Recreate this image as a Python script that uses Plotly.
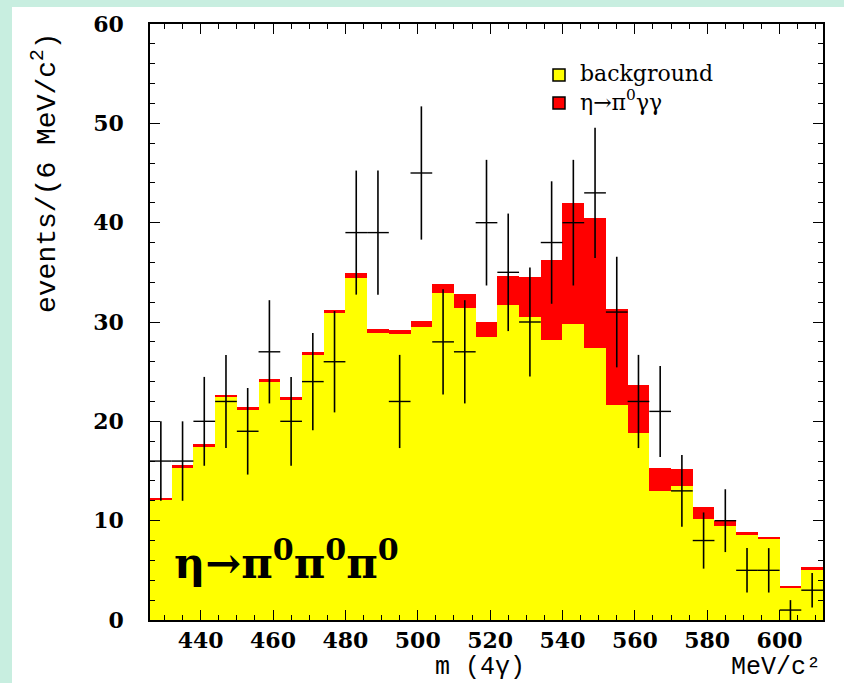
import numpy as np
import plotly.graph_objects as go

# 4-photon invariant mass, 6 MeV/c^2 bins from 426 to 612 MeV/c^2
bin_edges_lo = 426
bin_width = 6
bin_centers = [429, 435, 441, 447, 453, 459, 465, 471, 477, 483, 489, 495, 501, 507, 513, 519,
               525, 531, 537, 543, 549, 555, 561, 567, 573, 579, 585, 591, 597, 603, 609]

# observed events per bin
data_counts = [16, 16, 20, 22, 19, 27, 20, 24, 26, 39, 39, 22, 45, 28, 27, 40,
               35, 30, 38, 40, 43, 31, 22, 21, 13, 8, 10, 5, 5, 1, 3]

# expected background per bin
background = [12.1, 15.3, 17.5, 22.5, 21.2, 24.0, 22.1, 26.7, 30.9, 34.4, 28.9, 28.8, 29.5, 32.9, 31.4, 28.5,
              31.7, 30.5, 28.2, 29.8, 27.4, 21.6, 18.8, 13.0, 13.5, 10.2, 9.5, 8.6, 8.2, 3.25, 5.1]

# fitted eta -> pi0 gamma gamma contribution stacked on top of the background
signal = [0.2, 0.3, 0.2, 0.2, 0.2, 0.3, 0.3, 0.3, 0.3, 0.55, 0.35, 0.35, 0.65, 0.9, 1.4, 1.5,
          2.9, 4.0, 8.0, 12.2, 13.1, 9.7, 4.9, 2.3, 1.7, 1.2, 0.5, 0.3, 0.2, 0.15, 0.2]

legend_labels = ["background", "η→π<sup>0</sup>γγ"]

x_ticks = [440, 460, 480, 500, 520, 540, 560, 580, 600]
y_ticks = [0, 10, 20, 30, 40, 50, 60]

YELLOW = "#ffff00"
RED = "#ff0000"
MINT = "#c8eee0"

serif = "DejaVu Serif"
mono = "Liberation Mono"

fig = go.Figure()

fig.add_trace(go.Bar(
    x=bin_centers, y=background, width=bin_width,
    marker=dict(color=YELLOW, line=dict(width=0)),
    name=legend_labels[0], showlegend=False, hoverinfo="skip",
))
fig.add_trace(go.Bar(
    x=bin_centers, y=signal, width=bin_width,
    marker=dict(color=RED, line=dict(width=0)),
    name=legend_labels[1], showlegend=False, hoverinfo="skip",
))

# data points: Poisson errors vertically, bin width horizontally
fig.add_trace(go.Scatter(
    x=bin_centers, y=data_counts, mode="markers",
    marker=dict(size=1, color="rgba(0,0,0,0)"),
    error_x=dict(type="constant", value=bin_width / 2, width=0, thickness=1.4, color="black"),
    error_y=dict(type="data", array=np.sqrt(data_counts), width=0, thickness=1.6, color="black"),
    showlegend=False, hoverinfo="skip",
))

L, R, T, B = 150, 21, 24, 63
W, H = 844, 683
pw, ph = W - L - R, H - T - B


def px_x(px):
    return (px - L) / pw


def px_y(py):
    return (H - B - py) / ph


shapes = [
    dict(type="rect", xref="paper", yref="paper",
         x0=px_x(12), x1=px_x(W + 5), y0=px_y(H + 5), y1=px_y(7),
         fillcolor="white", line=dict(width=0), layer="below"),
]

# legend: outlined swatches next to a two-line label block
legend_rows = [75, 103]
for cy, colour in zip(legend_rows, [YELLOW, RED]):
    shapes.append(dict(type="rect", xref="paper", yref="paper",
                       x0=px_x(553), x1=px_x(565), y0=px_y(cy + 6), y1=px_y(cy - 6),
                       fillcolor=colour, line=dict(color="black", width=1.5), layer="above"))

annotations = [
    dict(text="<br>".join(legend_labels), xref="paper", yref="paper",
         x=px_x(578), y=px_y(sum(legend_rows) / 2 - 1), xanchor="left", yanchor="middle",
         align="left", showarrow=False,
         font=dict(family=serif, size=22, color="black")),
    dict(text="events/(6 MeV/c<sup>2</sup>)", xref="paper", yref="paper",
         x=px_x(45), y=px_y(173), xanchor="center", yanchor="middle",
         textangle=-90, showarrow=False,
         font=dict(family=mono, size=28, color="black")),
    dict(text="m (4γ)", xref="paper", yref="paper",
         x=px_x(480), y=px_y(668), xanchor="center", yanchor="middle",
         showarrow=False, font=dict(family=mono, size=25, color="black")),
    dict(text="MeV/c²", xref="paper", yref="paper",
         x=px_x(823), y=px_y(667), xanchor="right", yanchor="middle",
         showarrow=False, font=dict(family=mono, size=25, color="black")),
    dict(text="<b>η→π<sup>0</sup>π<sup>0</sup>π<sup>0</sup></b>", xref="paper", yref="paper",
         x=px_x(172), y=px_y(560), xanchor="left", yanchor="middle",
         showarrow=False, font=dict(family=serif, size=43, color="black")),
]

fig.update_layout(
    width=W, height=H,
    margin=dict(l=L, r=R, t=T, b=B),
    paper_bgcolor=MINT,
    plot_bgcolor="white",
    barmode="stack",
    bargap=0,
    showlegend=False,
    font=dict(family=serif, color="black"),
    shapes=shapes,
    annotations=annotations,
)

axis_common = dict(
    showgrid=False, zeroline=False,
    showline=True, linecolor="black", linewidth=1.6, mirror="ticks",
    ticks="inside", ticklen=10, tickwidth=1.4, tickcolor="black",
    tickfont=dict(family=serif, size=22, color="black", weight="bold"),
)

fig.update_xaxes(
    range=[bin_edges_lo, bin_edges_lo + bin_width * len(bin_centers)],
    tickvals=x_ticks, ticktext=[str(v) for v in x_ticks],
    minor=dict(dtick=5, tick0=440, ticklen=5, tickwidth=1.2, tickcolor="black", ticks="inside"),
    ticklabelstandoff=0,
    **axis_common,
)
fig.update_yaxes(
    range=[0, 60],
    tickvals=y_ticks, ticktext=[str(v) for v in y_ticks],
    minor=dict(dtick=2, tick0=0, ticklen=5, tickwidth=1.2, tickcolor="black", ticks="inside"),
    ticklabelstandoff=20,
    **axis_common,
)

fig.write_html("out.html")
